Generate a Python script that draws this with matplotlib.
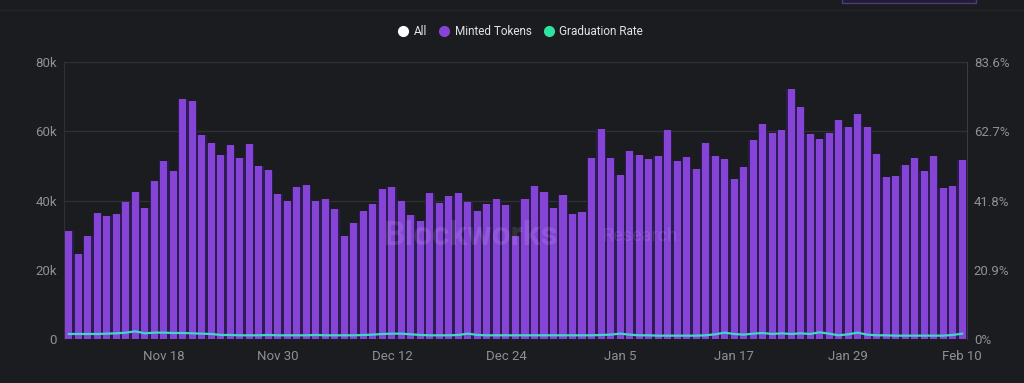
import numpy as np, pandas as pd, matplotlib
matplotlib.use("Agg")
import matplotlib.pyplot as plt
import matplotlib.dates as mdates
from matplotlib.lines import Line2D
from matplotlib.patches import Rectangle

plt.rcParams['font.family'] = ['Roboto', 'DejaVu Sans']

# daily data, Nov 8 2024 -> Feb 10 2025
dates = pd.date_range('2024-11-08', '2025-02-10', freq='D')
minted_k = [31.2, 24.5, 29.8, 36.5, 35.4, 36.2, 39.7, 42.5, 37.8, 45.7,
            51.4, 48.5, 69.4, 68.7, 58.8, 56.6, 53.1, 56.0, 52.2, 56.2,
            50.0, 48.8, 41.8, 40.0, 44.0, 44.6, 39.9, 40.3, 37.5, 29.7,
            33.4, 36.9, 39.0, 43.2, 43.9, 39.9, 35.8, 34.0, 42.1, 39.3,
            41.4, 42.1, 39.6, 36.9, 39.0, 40.3, 38.6, 29.7, 40.3, 44.3,
            42.5, 37.8, 41.5, 36.2, 36.8, 52.4, 60.6, 52.4, 47.5, 54.2,
            53.2, 51.9, 52.9, 60.3, 51.4, 52.5, 49.0, 56.7, 52.9, 52.1,
            46.1, 49.6, 57.5, 62.0, 59.6, 60.4, 72.3, 66.9, 59.1, 57.8,
            59.5, 63.4, 61.3, 64.9, 61.3, 53.4, 46.8, 47.2, 50.3, 52.4,
            48.5, 52.8, 43.6, 44.3, 51.7]
minted = np.array(minted_k) * 1000
grad_rate = [1.5, 1.5, 1.5, 1.5, 1.6, 1.7, 1.9, 2.3, 1.7, 1.9,
             1.9, 1.8, 1.8, 1.7, 1.6, 1.5, 1.2, 1.2, 1.1, 1.1,
             1.1, 1.2, 1.1, 1.1, 1.1, 1.1, 1.2, 1.1, 1.1, 1.1,
             1.1, 1.2, 1.3, 1.5, 1.6, 1.6, 1.4, 1.2, 1.1, 1.1,
             1.1, 1.2, 1.6, 1.2, 1.1, 1.1, 1.1, 1.1, 1.1, 1.1,
             1.1, 1.1, 1.1, 1.1, 1.1, 1.1, 1.2, 1.3, 1.6, 1.3,
             1.1, 1.1, 1.0, 1.0, 1.0, 1.0, 1.0, 1.1, 1.4, 1.9,
             1.5, 1.3, 1.6, 1.8, 1.5, 1.7, 1.5, 1.7, 1.5, 2.0,
             1.6, 1.1, 1.4, 1.9, 1.3, 1.1, 1.1, 1.0, 1.0, 1.0,
             1.0, 1.0, 1.0, 1.2, 1.6]

tick_dates = ['2024-11-18', '2024-11-30', '2024-12-12', '2024-12-24',
              '2025-01-05', '2025-01-17', '2025-01-29', '2025-02-10']
tick_labels = ['Nov 18', 'Nov 30', 'Dec 12', 'Dec 24', 'Jan 5', 'Jan 17', 'Jan 29', 'Feb 10']
left_ticks = [0, 20000, 40000, 60000, 80000]
left_labels = ['0', '20k', '40k', '60k', '80k']
right_ticks = [0, 20.9, 41.8, 62.7, 83.6]
right_labels = ['0%', '20.9%', '41.8%', '62.7%', '83.6%']

BG = '#1b1c20'
PURPLE = '#8644d6'
GAP = '#2c1c52'
TEAL = '#3fd6c6'
GREEN = '#2ee3a0'
TXT = '#8f9096'

fig = plt.figure(figsize=(10.24, 3.83), dpi=100, facecolor=BG)
ax = fig.add_axes([0.0625, 0.115, 0.8818, 0.723])
ax.set_facecolor(BG)

x = mdates.date2num(dates)
ax.bar(x, minted, width=1.0, color=GAP, zorder=2, linewidth=0)
ax.bar(x, minted, width=0.74, color=PURPLE, zorder=3, linewidth=0)

ax.set_ylim(0, 80000)
ax.set_xlim(x[0] - 0.5, x[-1] + 0.5)
ax.set_yticks(left_ticks)
ax.set_yticklabels(left_labels)
ax.set_xticks(mdates.date2num(pd.to_datetime(tick_dates)))
ax.set_xticklabels(tick_labels)
ax.grid(axis='y', color='#2f3034', linewidth=1, zorder=0)
ax.tick_params(axis='both', length=0, colors=TXT, labelsize=9.5)
ax.tick_params(axis='x', pad=8)
ax.tick_params(axis='y', pad=5)
for side in ['top', 'bottom']:
    ax.spines[side].set_visible(False)
ax.spines['left'].set_color('#2f3034')
ax.spines['right'].set_color('#3a3b40')

ax2 = ax.twinx()
ax2.plot(x, grad_rate, color=TEAL, linewidth=1.6, zorder=4)
ax2.set_ylim(0, 83.6)
ax2.set_yticks(right_ticks)
ax2.set_yticklabels(right_labels)
ax2.tick_params(axis='y', length=0, colors=TXT, labelsize=9.5, pad=5)
for s in ax2.spines.values():
    s.set_visible(False)

# watermark
fig.text(0.46, 0.385, 'Blockworks', fontsize=24, fontweight='bold', color='white',
         alpha=0.1, ha='center', va='center', zorder=10)
fig.text(0.625, 0.385, 'Research', fontsize=13, color='white',
         alpha=0.1, ha='center', va='center', zorder=10)

# legend
handles = [Line2D([], [], marker='o', linestyle='', markersize=7, markerfacecolor=c,
                  markeredgecolor=c) for c in ['white', PURPLE, GREEN]]
leg = fig.legend(handles, ['All', 'Minted Tokens', 'Graduation Rate'], loc='center',
                 bbox_to_anchor=(0.508, 0.918), ncol=3, frameon=False, fontsize=8.5,
                 handletextpad=0.45, columnspacing=1.0, handlelength=0.9)
for t in leg.get_texts():
    t.set_color('#e2e2e6')

# top strip bits
fig.add_artist(Line2D([0, 1], [0.975, 0.975], color='#25262a', linewidth=1,
                      transform=fig.transFigure))
fig.add_artist(Rectangle((0.822, 0.993), 0.131, 0.02, transform=fig.transFigure,
                         facecolor='#221d33', edgecolor='#4a3d7a', linewidth=1))

fig.savefig('out.png', dpi=100, facecolor=BG)
